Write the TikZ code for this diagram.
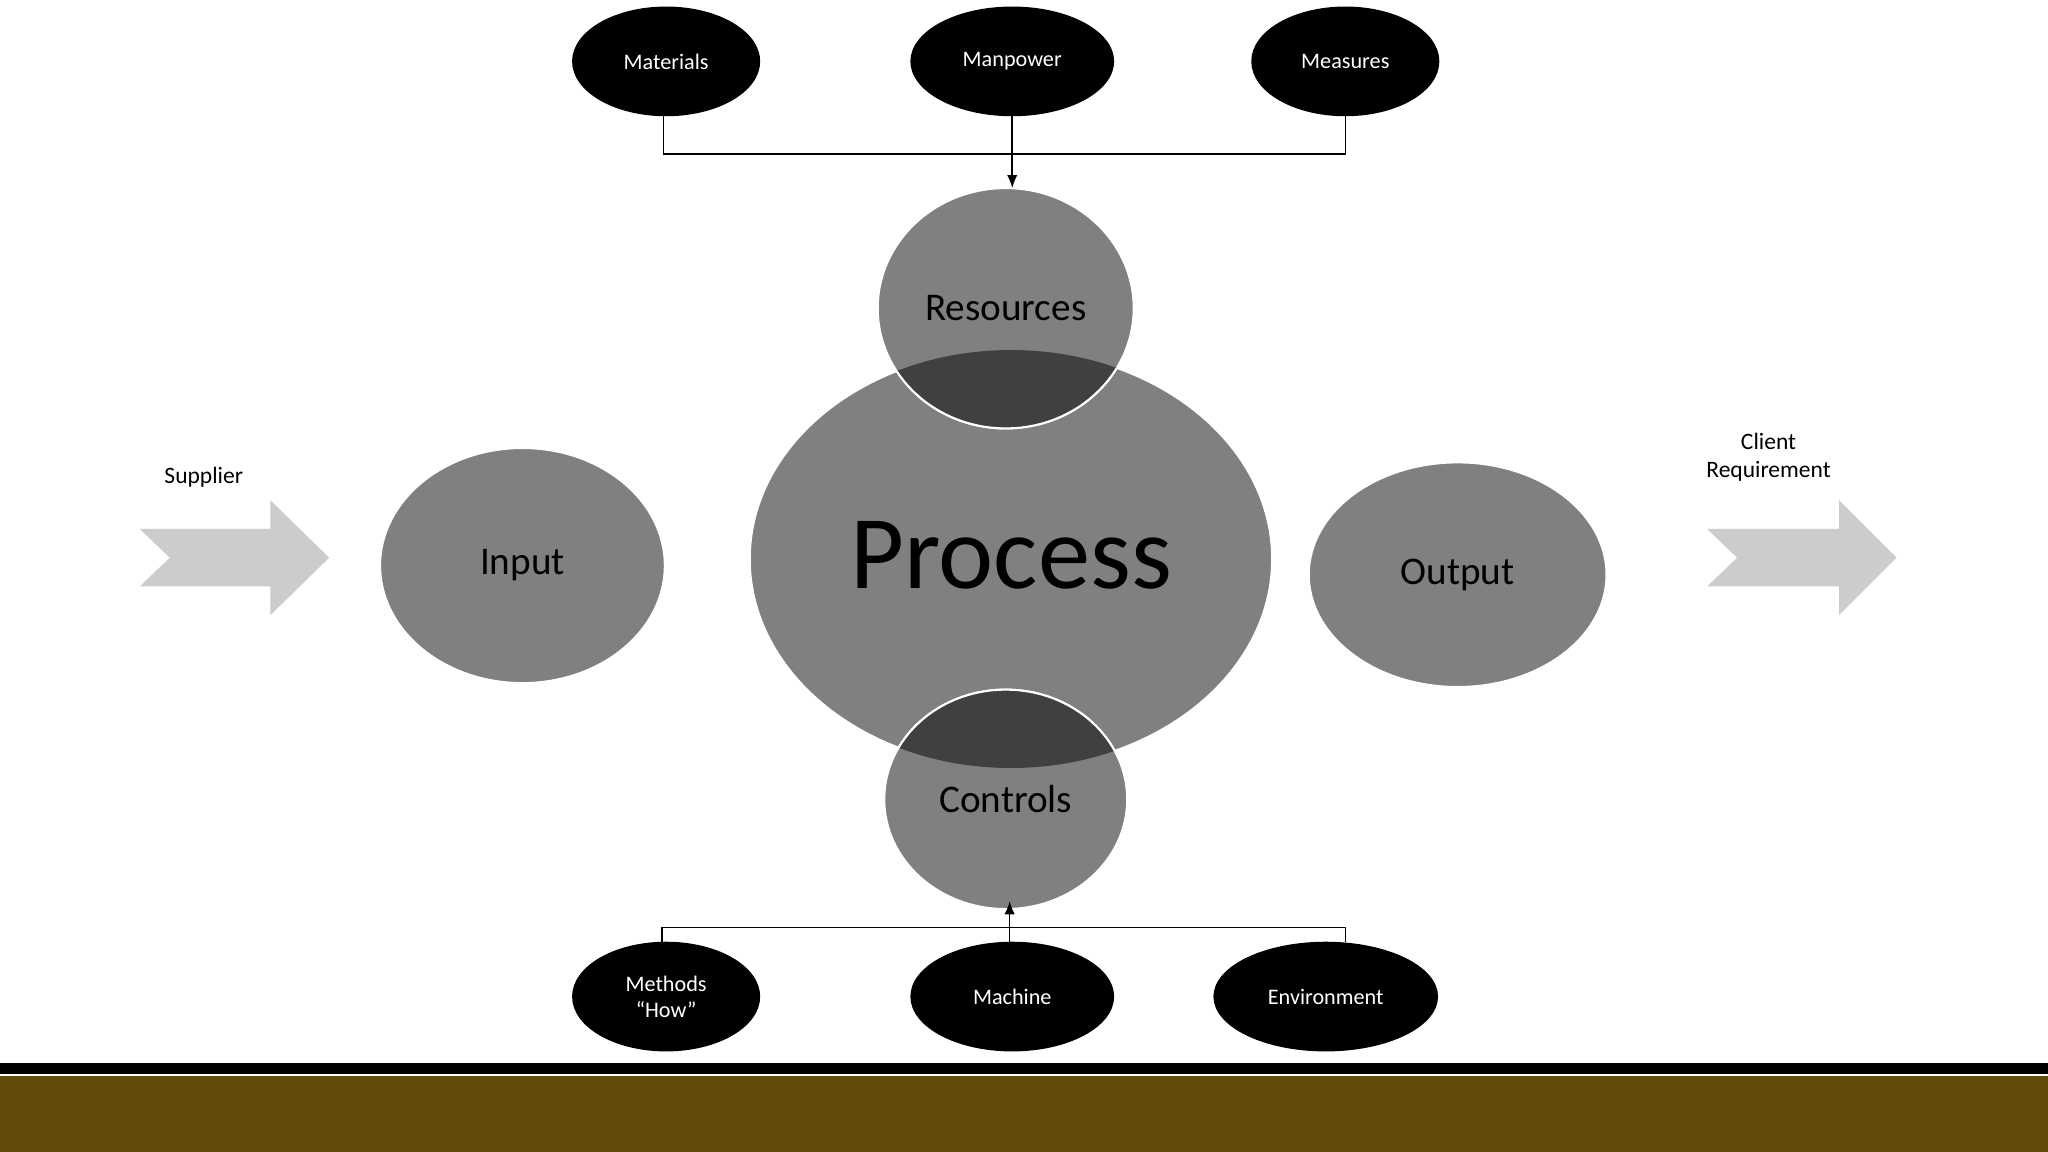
\documentclass[tikz,border=0pt]{standalone}
\usepackage{fontspec}
\setmainfont{Carlito}
\usetikzlibrary{arrows.meta}
\definecolor{midgray}{RGB}{128,128,128}
\definecolor{darkov}{RGB}{64,64,64}
\definecolor{arrowgray}{RGB}{204,204,204}
\definecolor{brownbar}{RGB}{99,75,10}
\begin{document}
\begin{tikzpicture}[x=0.5pt,y=-0.5pt,
  blk/.style={text=white,font=\fontsize{8.5}{10}\selectfont,align=center,inner sep=0pt},
  gr/.style={fill=midgray,draw=white,line width=0.8pt},
  conn/.style={draw=black,line width=0.6pt},
  big/.style={font=\fontsize{15}{18}\selectfont}]
\useasboundingbox (0,0) rectangle (1568,882);
\fill[white] (0,0) rectangle (1568,882);
% top ellipses
\fill[black] (510,47) ellipse [x radius=72,y radius=42];
\fill[black] (775,47) ellipse [x radius=78,y radius=42];
\fill[black] (1030,47) ellipse [x radius=72,y radius=42];
\node[blk] (matT) at (510,47) {Materials};
\node[blk] (manT) at (775,47) {Manpower};
\node[blk] (meaT) at (1030,47) {Measures};
\coordinate (matB) at (508,89);
\coordinate (manB) at (775,89);
\coordinate (meaB) at (1030,89);
% bottom ellipses
\fill[black] (510,763) ellipse [x radius=72,y radius=42];
\fill[black] (775,763) ellipse [x radius=78,y radius=42];
\fill[black] (1015,763) ellipse [x radius=86,y radius=42];
\node[blk] (metT) at (510,763) {Methods\\“How”};
\node[blk] (macT) at (775,763) {Machine};
\node[blk] (envT) at (1015,763) {Environment};
\coordinate (metTop) at (507,721);
\coordinate (macTop) at (773,721);
\coordinate (envTop) at (1030,721);
% input / output
\path[gr] (400,433) ellipse [x radius=109,y radius=90];
\node[big] (inp) at (400,433) {Input};
\path[gr] (1116,440) ellipse [x radius=114,y radius=86];
\node[big] (out) at (1116,440) {Output};
% process
\path[gr] (774,428) ellipse [x radius=200,y radius=160];
\path[gr] (770,236) ellipse [x radius=98,y radius=92];
\path[gr] (770,612) ellipse [x radius=93,y radius=84];
\begin{scope}
\clip (774,428) ellipse [x radius=200,y radius=160];
\path[fill=darkov,draw=white,line width=0.8pt] (770,236) ellipse [x radius=98,y radius=92];
\path[fill=darkov,draw=white,line width=0.8pt] (770,612) ellipse [x radius=93,y radius=84];
\end{scope}
\node[font=\fontsize{40}{46}\selectfont] (proc) at (774,425) {Process};
\node[big] (res) at (770,236) {Resources};
\node[big] (ctl) at (770,612) {Controls};
\coordinate (resTop) at (775,144);
\coordinate (ctlBot) at (773,690);
% connectors
\draw[conn] (matB) |- (meaB |- 0,118) -- (meaB);
\draw[conn,-{Latex[length=5pt,width=4pt]}] (manB) -- (resTop);
\draw[conn] (metTop) |- (envTop |- 0,710) -- (envTop);
\draw[conn,-{Latex[length=5pt,width=4pt]}] (macTop) -- (ctlBot);
% side arrows
\fill[arrowgray] (107,405) -- (207,405) -- (207,383) -- (252,427) -- (207,471) -- (207,449) -- (107,449) -- (130,427) -- cycle;
\fill[arrowgray] (1307,405) -- (1408,405) -- (1408,383) -- (1452,427) -- (1408,471) -- (1408,449) -- (1307,449) -- (1330,427) -- cycle;
\node[font=\fontsize{9}{11}\selectfont] (sup) at (156,365) {Supplier};
\node[font=\fontsize{9}{11}\selectfont,align=center] (cli) at (1354,350) {Client\\Requirement};
% bottom bar
\fill[black] (0,814) rectangle (1568,822);
\fill[brownbar] (0,824) rectangle (1568,882);
\end{tikzpicture}
\end{document}
